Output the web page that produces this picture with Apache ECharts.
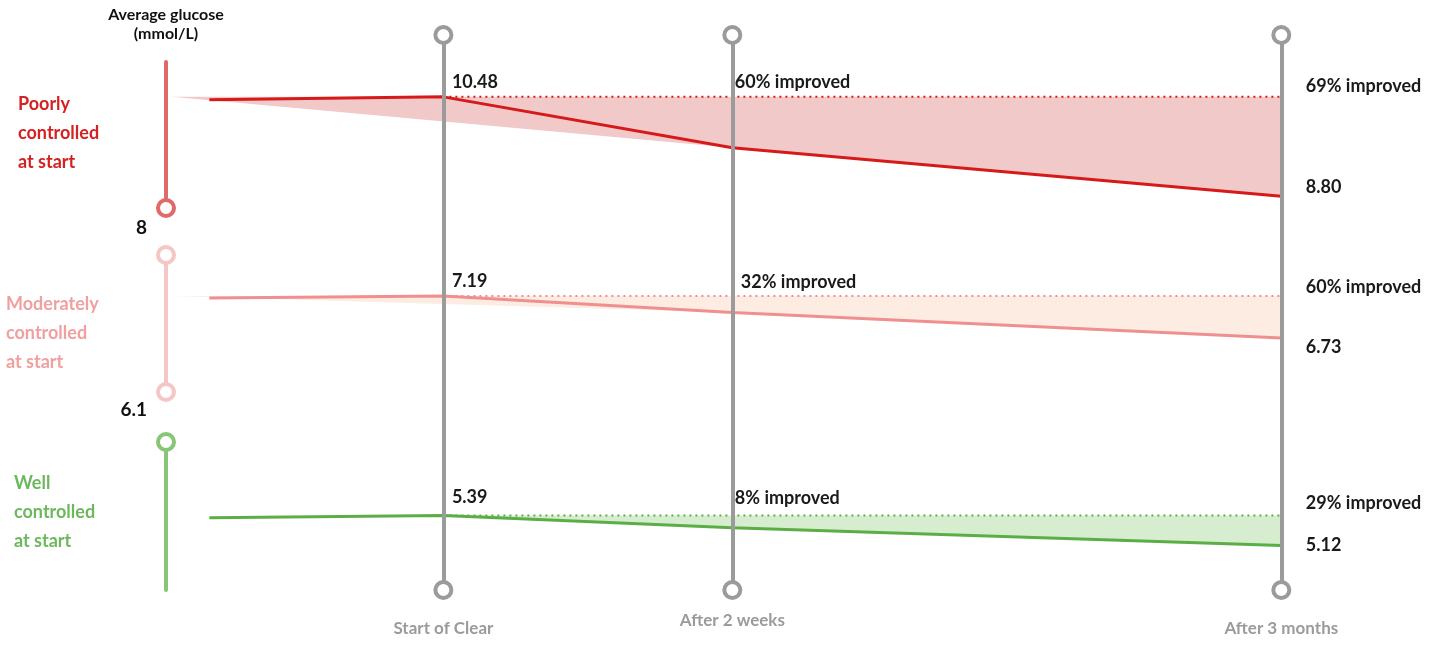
<!DOCTYPE html>
<html>
<head>
<meta charset="utf-8">
<title>Average glucose</title>
<script src="https://cdn.jsdelivr.net/npm/echarts@6/dist/echarts.min.js"></script>
<style>
  html, body { margin: 0; background: #fff; }
  #chart { width: 1442px; height: 646px; }
</style>
</head>
<body>
<div id="chart"></div>
<script>
// timeline positions (Start of Clear = 0, After 2 weeks = 1)
const stages = ['Start of Clear', 'After 2 weeks', 'After 3 months']
const stageX = [0, 1, 2.9]
const leadX = -0.81 // run-in before the start
const fillX = -0.94

const groups = ['Poorly\ncontrolled\nat start', 'Moderately\ncontrolled\nat start', 'Well\ncontrolled\nat start']
// average glucose (mmol/L): run-in, start, 2 weeks, 3 months
const poorly = [10.43, 10.48, 9.62, 8.80]
const moderate = [7.17, 7.19, 7.01, 6.73]
const well = [5.37, 5.39, 5.28, 5.12]
const improved = [
  ['60% improved', '69% improved'],
  ['32% improved', '60% improved'],
  ['8% improved', '29% improved']
]
const thresholds = ['8', '6.1']
// axis range of each band
const bandMin = [8.6, 6.14, 4.72]
const bandMax = [11.07, 7.64, 6.05]

const font = 'Lato'
const xMin = -0.96
const xMax = 3.2
const values = [poorly, moderate, well]

const style = [
  { line: '#d61a1a', fill: '#f1c9c9', bar: '#e06a6a', text: '#d42222', fillFrom: fillX,
    top: 62, bottom: 438, rings: [0],
    off: { start: [3, -15], mid: [-3, -15], end: [19, -11], last: [19, -9] } },
  { line: '#f08f8f', fill: '#fcece2', bar: '#f5c6c6', text: '#f0a0a0', fillFrom: fillX,
    top: 255, bottom: 254, rings: [0, 1],
    off: { start: [3, -15], mid: [3, -14], end: [19, -9], last: [19, 9] } },
  { line: '#5bae45', fill: '#d7edd0', bar: '#88c576', text: '#6cb85c', fillFrom: 0,
    top: 442, bottom: 56, rings: [1],
    off: { start: [3, -18], mid: [-3, -17], end: [19, -12], last: [19, 0] } }
]
const captionPos = [[18, 90], [6, 290], [14, 469]]

const hidden = { color: 'rgba(0,0,0,0)', borderWidth: 0 }
const txt = { color: '#1a1a1a', fontSize: 18, fontWeight: 'bold', fontFamily: font }

function lbl (text, offset) {
  return { show: true, position: 'right', formatter: text, offset, ...txt }
}

function rings (xi, yi, points, color) {
  return {
    type: 'scatter',
    xAxisIndex: xi,
    yAxisIndex: yi,
    z: 5,
    silent: true,
    clip: false,
    symbol: 'circle',
    symbolSize: 16,
    itemStyle: { color: '#fff', borderColor: color, borderWidth: 4, opacity: 1 },
    data: points
  }
}

const grid = [{ left: 166, right: 74, top: 35, bottom: 56 }]
const xAxis = [{ type: 'value', gridIndex: 0, min: xMin, max: xMax, show: false }]
const yAxis = [{ type: 'value', gridIndex: 0, min: 0, max: 1, show: false }]
const series = [{
  type: 'line',
  xAxisIndex: 0,
  yAxisIndex: 0,
  data: [],
  z: 2,
  silent: true,
  markLine: {
    silent: true,
    symbol: ['none', 'none'],
    lineStyle: { color: '#9b9b9b', width: 4, type: 'solid' },
    label: { position: 'start', color: '#9b9b9b', fontSize: 17, fontWeight: 'bold', fontFamily: font },
    data: stages.map((s, i) => ({
      xAxis: stageX[i],
      label: { formatter: s, distance: i === 1 ? 22 : 30 }
    }))
  }
}]
// rings at both ends of each stage line
series.push(rings(0, 0, stageX.flatMap(x => [[x, 0], [x, 1]]), '#9b9b9b'))

values.forEach((v, g) => {
  const st = style[g]
  const gi = g + 1
  grid.push({ left: 166, right: 74, top: st.top, bottom: st.bottom })
  xAxis.push({ type: 'value', gridIndex: gi, min: xMin, max: xMax, show: false })
  let name = ''
  let nameStyle = {}
  let nameGap = 15
  if (g === 0) {
    name = 'Average glucose\n(mmol/L)'
    nameGap = 19
    nameStyle = { color: '#111', fontSize: 16, fontWeight: 'bold', fontFamily: font, lineHeight: 19 }
  } else {
    name = thresholds[g - 1]
    nameGap = g === 1 ? 18 : 23
    nameStyle = { color: '#111', fontSize: 19, fontWeight: 'bold', fontFamily: font, align: 'right', padding: [0, 19, 0, 0] }
  }
  yAxis.push({
    type: 'value',
    gridIndex: gi,
    min: bandMin[g],
    max: bandMax[g],
    name,
    nameLocation: 'end',
    nameGap,
    nameTextStyle: nameStyle,
    axisLine: {
      show: true,
      onZero: false,
      lineStyle: { color: st.bar, width: 4 }
    },
    axisTick: { show: false },
    axisLabel: { show: false },
    splitLine: { show: false }
  })
  const ends = [bandMin[g], bandMax[g]]
  series.push(rings(gi, gi, st.rings.map(k => [xMin, ends[k]]), st.bar))

  // shaded gap between the start level and the trend
  series.push({
    type: 'line',
    xAxisIndex: gi,
    yAxisIndex: gi,
    z: 1,
    silent: true,
    symbol: 'none',
    lineStyle: { width: 0 },
    areaStyle: { color: st.fill, opacity: 1, origin: v[1] },
    data: [[st.fillFrom, v[1]], [stageX[1], v[2]], [stageX[2], v[3]]]
  })
  // dotted start level with the improvement notes
  series.push({
    type: 'line',
    xAxisIndex: gi,
    yAxisIndex: gi,
    z: 3,
    silent: true,
    symbol: 'circle',
    symbolSize: 1,
    itemStyle: hidden,
    lineStyle: { color: st.line, width: 2, type: [2, 4] },
    data: [
      [stageX[0], v[1]],
      { value: [stageX[1], v[1]], label: lbl(improved[g][0], st.off.mid) },
      { value: [stageX[2], v[1]], label: lbl(improved[g][1], st.off.end) }
    ]
  })
  // the trend itself
  series.push({
    type: 'line',
    xAxisIndex: gi,
    yAxisIndex: gi,
    z: 4,
    silent: true,
    symbol: 'circle',
    symbolSize: 1,
    itemStyle: hidden,
    lineStyle: { color: st.line, width: 3 },
    data: [
      [leadX, v[0]],
      { value: [stageX[0], v[1]], label: lbl(v[1].toFixed(2), st.off.start) },
      [stageX[1], v[2]],
      { value: [stageX[2], v[3]], label: lbl(v[3].toFixed(2), st.off.last) }
    ]
  })
})

const chart = echarts.init(document.getElementById('chart'))
chart.setOption({
  animation: false,
  backgroundColor: '#fff',
  grid,
  xAxis,
  yAxis,
  series,
  graphic: groups.map((t, g) => ({
    type: 'text',
    left: captionPos[g][0],
    top: captionPos[g][1],
    style: {
      text: t,
      fill: style[g].text,
      fontSize: 18,
      fontWeight: 'bold',
      fontFamily: font,
      lineHeight: 29
    }
  }))
})
window.addEventListener('resize', () => chart.resize())
</script>
</body>
</html>
